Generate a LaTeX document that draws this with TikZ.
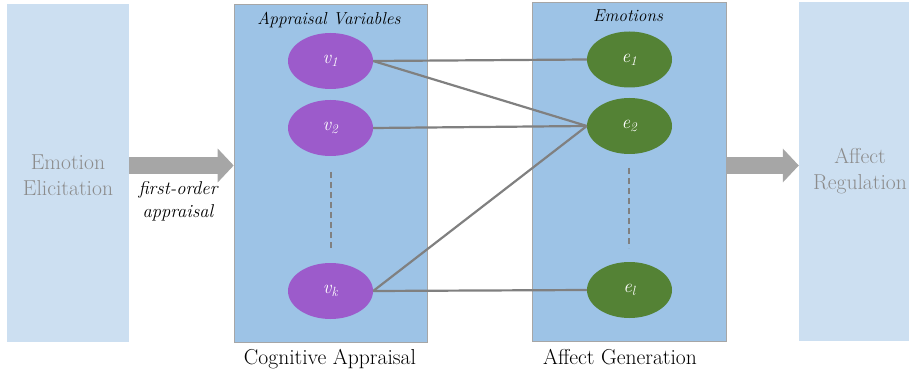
\documentclass[tikz,border=0pt]{standalone}
\usetikzlibrary{shapes.geometric,arrows.meta,calc}
\definecolor{lightbox}{HTML}{CCDFF1}
\definecolor{midbox}{HTML}{9DC3E6}
\definecolor{boxedge}{HTML}{A6A6A6}
\definecolor{fadetext}{HTML}{8C8C8C}
\definecolor{arrowgray}{HTML}{A6A6A6}
\definecolor{linegray}{HTML}{808080}
\definecolor{purplev}{HTML}{9C5BCB}
\definecolor{greene}{HTML}{548235}
\tikzset{
  lightpanel/.style={rectangle, fill=lightbox, draw=none, inner sep=0pt},
  midpanel/.style={rectangle, fill=midbox, draw=boxedge, line width=0.6pt, inner sep=0pt},
  fadelabel/.style={text=fadetext, font=\fontsize{21.6}{26}\selectfont, align=center},
  ovalv/.style={ellipse, fill=purplev, minimum width=85pt, minimum height=56pt, inner sep=0pt, text=white, font=\fontsize{19}{20}\selectfont\itshape},
  ovale/.style={ellipse, fill=greene, minimum width=85pt, minimum height=56pt, inner sep=0pt, text=white, font=\fontsize{19}{20}\selectfont\itshape},
  link/.style={draw=linegray, line width=2.2pt},
  dots/.style={draw=linegray, line width=2.2pt, dash pattern=on 6pt off 4pt},
  bigarrow/.style={draw=arrowgray, line width=17pt, -{Triangle[length=16pt, width=33pt]}},
  title/.style={font=\fontsize{17.3}{20}\selectfont\itshape},
  caption/.style={font=\fontsize{21.6}{24}\selectfont}
}
\begin{document}
\begin{tikzpicture}[x=1pt,y=-1pt]
\useasboundingbox (0,0) rectangle (909,379);
% panels
\node[lightpanel, minimum width=122pt, minimum height=338pt] (ee) at (68,173) {};
\node[midpanel, minimum width=193pt, minimum height=338pt] (cog) at (330.5,173) {};
\node[midpanel, minimum width=194pt, minimum height=339pt] (ag) at (629,171.5) {};
\node[lightpanel, minimum width=120pt, minimum height=339pt] (er) at (859,171.5) {};
% panel texts
\node[fadelabel] (eet) at (68,175) {Emotion\\Elicitation};
\node[fadelabel] (ert) at (860,171) {Affect\\Regulation};
\node[title] (avt) at (329,20) {Appraisal Variables};
\node[title] (emt) at (628,16) {Emotions};
\node[caption] (cogc) at (330,359) {Cognitive Appraisal};
\node[caption] (agc) at (620,357) {Affect Generation};
\node[font=\fontsize{18.5}{23}\selectfont\itshape, align=center] (foa) at (178,201) {first-order\\appraisal};
% ellipses
\node[ovalv] (v1) at (330.5,61) {v\textsubscript{1}};
\node[ovalv] (v2) at (330.5,128) {v\textsubscript{2}};
\node[ovalv] (vk) at (330.5,291) {v\textsubscript{k}};
\node[ovale] (e1) at (629.5,59.5) {e\textsubscript{1}};
\node[ovale] (e2) at (629.5,126) {e\textsubscript{2}};
\node[ovale] (el) at (629.5,290) {e\textsubscript{l}};
% dashed continuation
\coordinate (vd1) at (331,172);
\coordinate (vd2) at (331,251);
\coordinate (ed1) at (629,168);
\coordinate (ed2) at (629,248);
\draw[dots] (vd1) -- (vd2);
\draw[dots] (ed1) -- (ed2);
% links
\draw[link] (v1.east) -- (e1.west);
\draw[link] (v1.east) -- (e2.west);
\draw[link] (v2.east) -- (e2.west);
\draw[link] (vk.east) -- (e2.west);
\draw[link] (vk.east) -- (el.west);
% big arrows
\draw[bigarrow] (ee.east |- 0,165.5) -- (cog.west |- 0,165.5);
\draw[bigarrow] (ag.east |- 0,165.5) -- (er.west |- 0,165.5);
\end{tikzpicture}
\end{document}
